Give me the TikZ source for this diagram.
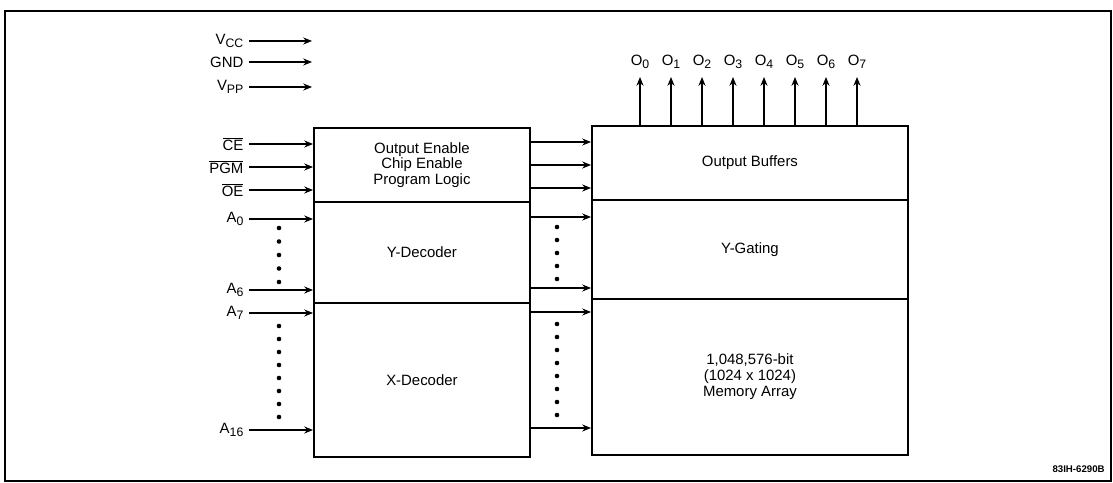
\documentclass[tikz,border=0pt]{standalone}
\usepackage{fontspec}
\setmainfont{Liberation Sans}
\usetikzlibrary{positioning,arrows.meta}
\newcommand{\lowsub}[1]{\raisebox{-0.45ex}{\fontsize{7}{7}\selectfont #1}}
\newcommand{\barsig}[1]{$\overline{\mbox{#1}}$}
\tikzset{
  blk/.style={draw, line width=1.1pt, anchor=north west, align=center,
              inner sep=0pt, font=\fontsize{8.5}{9}\selectfont},
  sig/.style={line width=0.6pt, -{Stealth[length=5pt,width=4pt]}},
  pin/.style={font=\fontsize{8.5}{9}\selectfont, anchor=east, inner xsep=3pt, inner ysep=1pt},
  opin/.style={font=\fontsize{8.5}{9}\selectfont, anchor=south, inner xsep=1pt, inner ysep=4.5pt},
  figno/.style={font=\fontsize{5.5}{6}\selectfont\bfseries, anchor=east, inner sep=0pt},
}

\begin{document}
\begin{tikzpicture}[x=0.02cm, y=-0.02cm]
  \useasboundingbox (0,0) rectangle (1113,483);
  \draw[line width=1.1pt] (5,11) rectangle (1111,481);

  \node[blk, minimum width=4.32cm, minimum height=1.48cm] (ctl) at (313,127) {Output Enable\\Chip Enable\\Program Logic};
  \node[blk, minimum width=4.32cm, minimum height=2.02cm] (ydec) at (313,201) {Y-Decoder};
  \node[blk, minimum width=4.32cm, minimum height=3.08cm] (xdec) at (313,302) {X-Decoder};
  \node[blk, minimum width=6.32cm, minimum height=1.48cm] (obuf) at (591,125) {Output Buffers};
  \node[blk, minimum width=6.32cm, minimum height=1.98cm] (ygate) at (591,199) {Y-Gating};
  \node[blk, minimum width=6.32cm, minimum height=3.12cm] (marr) at (591,298) {1,048,576-bit\\(1024 x 1024)\\Memory Array};

  \foreach \y/\t/\n in {41/V\lowsub{CC}/vcc, 62/GND/gnd, 87/V\lowsub{PP}/vpp}{
    \node[pin] (\n) at (249,\y) {\t};
    \coordinate (\n e) at (312,\y);
    \draw[sig] (\n.east) -- (\n e);
  }
  \foreach \y/\t/\n in {144/\barsig{CE}/ce, 167/\barsig{PGM}/pgm, 190/\barsig{OE}/oe,
                        219/A\lowsub{0}/a0, 290/A\lowsub{6}/a6, 313/A\lowsub{7}/a7, 430/A\lowsub{16}/a16}{
    \node[pin] (\n) at (249,\y) {\t};
    \draw[sig] (\n.east) -- (\n.east -| ctl.west);
  }
  \foreach \y in {142,165,188,217,288,312,428}
    \draw[sig] (ctl.east |- 0,\y) -- (obuf.west |- 0,\y);

  \foreach \i in {0,...,7}{
    \node[opin] (o\i) at (640+31*\i,77) {O\lowsub{\i}};
    \draw[sig] (o\i.south |- obuf.north) -- (o\i.south);
  }

  \foreach \y in {228,241.5,...,282} \fill (279,\y) circle[radius=2.3];
  \foreach \y in {326,339,...,417} \fill (279,\y) circle[radius=2.3];
  \foreach \y in {227,240,...,279} \fill (557,\y) circle[radius=2.3];
  \foreach \y in {324,337,...,415} \fill (557,\y) circle[radius=2.3];

  \node[figno] (fig) at (1105,469) {83IH-6290B};
\end{tikzpicture}
\end{document}
